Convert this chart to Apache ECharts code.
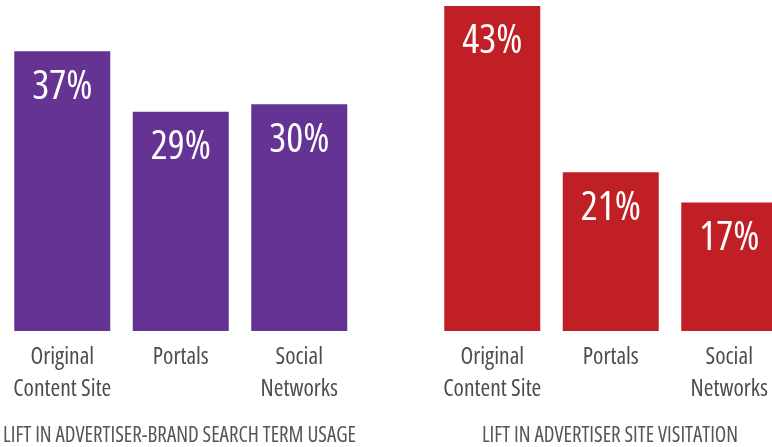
<!DOCTYPE html>
<html><head><meta charset="utf-8">
<script src="https://cdn.jsdelivr.net/npm/echarts@6/dist/echarts.min.js"></script>
<style>html,body{margin:0;padding:0;background:#fff}#c{width:772px;height:447px}</style>
</head><body><div id="c"></div>
<script>
var categories = ['Original\nContent Site', 'Portals', 'Social\nNetworks'];
var searchLift = [37, 29, 30];
var visitLift = [43, 21, 17];
var titles = ['LIFT IN ADVERTISER-BRAND SEARCH TERM USAGE', 'LIFT IN ADVERTISER SITE VISITATION'];

var FONT = '"Open Sans", sans-serif';
var STRETCH = 'condensed';
var chart = echarts.init(document.getElementById('c'));

function xAxis(i) {
  return {
    type: 'category', gridIndex: i, data: categories,
    axisLine: {show: false}, axisTick: {show: false},
    axisLabel: {color: '#4d4d4d', fontFamily: FONT, fontWeight: STRETCH, fontSize: 23.5, lineHeight: 32, margin: 10, interval: 0}
  };
}
function yAxis(i) {
  return {type: 'value', gridIndex: i, min: 0, max: 43, show: false, splitLine: {show: false}};
}
function series(i, data, color) {
  return {
    type: 'bar', xAxisIndex: i, yAxisIndex: i, data: data, barWidth: 96,
    itemStyle: {color: color},
    label: {show: true, position: 'insideTop', distance: 16, color: '#fff', fontFamily: FONT, fontWeight: STRETCH, fontSize: 40,
      formatter: function (p) { return p.value + '%'; }}
  };
}
chart.setOption({
  animation: false,
  grid: [
    {left: 3, width: 355.5, top: 6, bottom: 116, outerBoundsMode: 'none', containLabel: false},
    {left: 433, width: 355.5, top: 6, bottom: 116, outerBoundsMode: 'none', containLabel: false}
  ],
  title: [
    {text: titles[0], left: 3, top: 426, padding: 0, textStyle: {color: '#555', fontFamily: FONT, fontWeight: STRETCH, fontSize: 21}},
    {text: titles[1], left: 610, top: 426, padding: 0, textAlign: 'center', textStyle: {color: '#555', fontFamily: FONT, fontWeight: STRETCH, fontSize: 21}}
  ],
  xAxis: [xAxis(0), xAxis(1)],
  yAxis: [yAxis(0), yAxis(1)],
  series: [series(0, searchLift, '#653393'), series(1, visitLift, '#c11f26')]
});
</script></body></html>
